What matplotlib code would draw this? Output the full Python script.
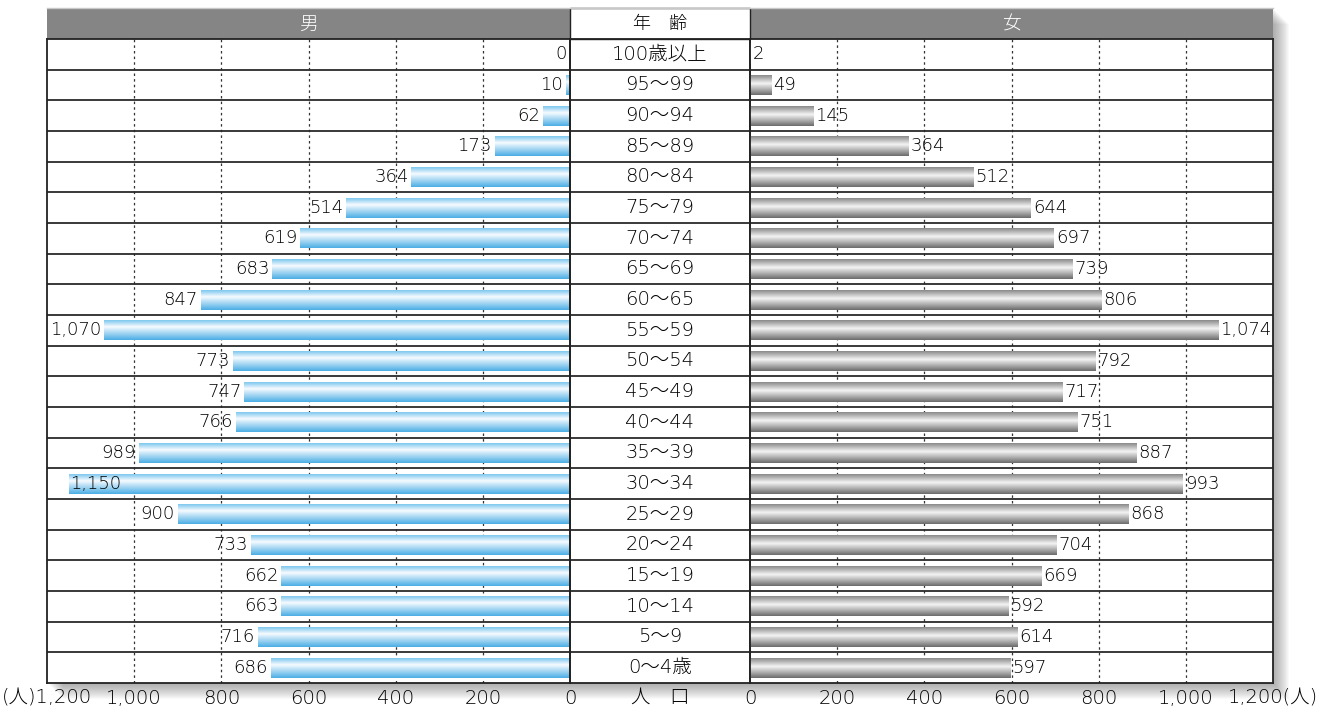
import numpy as np
import matplotlib
matplotlib.use("Agg")
import matplotlib.pyplot as plt
from matplotlib.colors import LinearSegmentedColormap
from matplotlib.patches import Rectangle

plt.rcParams['font.family'] = ['DejaVu Sans', 'Noto Sans CJK JP']
plt.rcParams['font.weight'] = 'light'

# data (top row first)
ages = ["100歳以上", "95～99", "90～94", "85～89", "80～84", "75～79", "70～74",
        "65～69", "60～65", "55～59", "50～54", "45～49", "40～44", "35～39",
        "30～34", "25～29", "20～24", "15～19", "10～14", "5～9", "0～4歳"]
male = [0, 10, 62, 173, 364, 514, 619, 683, 847, 1070, 773, 747, 766, 989,
        1150, 900, 733, 662, 663, 716, 686]
female = [2, 49, 145, 364, 512, 644, 697, 739, 806, 1074, 792, 717, 751, 887,
          993, 868, 704, 669, 592, 614, 597]
ticks = [0, 200, 400, 600, 800, 1000, 1200]
left_ticklabels = ["0", "200", "400", "600", "800", "1,000", "(人)1,200"]
right_ticklabels = ["0", "200", "400", "600", "800", "1,000", "1,200(人)"]

W, H = 1337, 710
fig = plt.figure(figsize=(W / 100, H / 100), dpi=100)
TXT = "#000000"


def fr(x0, y0, x1, y1):
    # pixel box (top-left origin) -> figure rect
    return [x0 / W, (H - y1) / H, (x1 - x0) / W, (y1 - y0) / H]


# background: shadow, header
bg = fig.add_axes([0, 0, 1, 1], zorder=0)
bg.set_xlim(0, W)
bg.set_ylim(H, 0)
bg.axis("off")
for d in range(1, 17):
    bg.add_patch(Rectangle((47 + d, 8 + d), 1226, 675, facecolor="#555555",
                           alpha=0.035, edgecolor="none"))
bg.add_patch(Rectangle((47, 8), 1226, 675, facecolor="white", edgecolor="none"))
bg.add_patch(Rectangle((47, 8), 1226, 31, facecolor="#858585", edgecolor="none"))
bg.plot([47, 1273], [7.5, 7.5], color="#c8c8c8", lw=1)
bg.add_patch(Rectangle((570, 8), 180, 31, facecolor="white", edgecolor="#222222", lw=1))
bg.text(308, 24, "男", color="white", fontsize=13.5, ha="center", va="center")
bg.text(1012, 24, "女", color="white", fontsize=13.5, ha="center", va="center")
bg.text(660, 24, "年　齢", color=TXT, fontsize=13, ha="center", va="center")
bg.text(660, 697, "人　口", color=TXT, fontsize=14, ha="center", va="center")

blue = LinearSegmentedColormap.from_list("b", [(0, "#7ec7ee"), (0.33, "#f6fbff"), (1, "#4caee5")])
gray = LinearSegmentedColormap.from_list("g", [(0, "#8a8a8a"), (0.42, "#f4f4f4"), (1, "#6c6c6c")])

ax_l = fig.add_axes(fr(47, 39, 570, 683), zorder=2)
ax_c = fig.add_axes(fr(570, 39, 750, 683), zorder=2)
ax_r = fig.add_axes(fr(750, 39, 1273, 683), zorder=2)

y = np.arange(len(ages))
bar_h = 0.65


def gradient_bars(ax, vals, cmap):
    bars = ax.barh(y, vals, height=bar_h, color="none", edgecolor="none", zorder=3)
    grad = cmap(np.linspace(0, 1, 64))[:, None, :3]
    for b in bars:
        if b.get_width() <= 0:
            continue
        x0, y0, w, h = b.get_x(), b.get_y(), b.get_width(), b.get_height()
        im = ax.imshow(grad, extent=(x0, x0 + w, y0 + h, y0), aspect="auto",
                       origin="upper", zorder=3, interpolation="bilinear")
        im.set_clip_path(b)
    return bars


for ax, vals, cmap, labels in [(ax_l, male, blue, left_ticklabels),
                               (ax_r, female, gray, right_ticklabels)]:
    ax.set_facecolor("none")
    gradient_bars(ax, vals, cmap)
    for t in ticks[1:-1]:
        ax.axvline(t, color="#333333", lw=0.9, ls=(0, (2, 2.5)), zorder=1)
    ax.set_xlim(0, 1200)
    ax.set_xticks(ticks)
    ax.set_xticklabels(labels, fontsize=14, color=TXT)
    ax.tick_params(axis="x", length=0, pad=4)
    ax.set_yticks([])

ax_l.invert_xaxis()

for ax in (ax_l, ax_c, ax_r):
    ax.set_ylim(len(ages) - 0.5, -0.5)
    for i in range(len(ages) - 1):
        ax.axhline(i + 0.5, color="#2a2a2a", lw=1.3, zorder=4)
    for s in ax.spines.values():
        s.set_color("#222222")
        s.set_linewidth(1.3)
        s.set_zorder(5)

ax_c.set_facecolor("none")
ax_c.set_xlim(0, 1)
ax_c.set_xticks([])
ax_c.set_yticks([])
for i, a in enumerate(ages):
    ax_c.text(0.5, i, a, ha="center", va="center", fontsize=14, color=TXT)

# value labels
for i, v in enumerate(male):
    txt = f"{v:,}"
    if v > 1100:
        ax_l.annotate(txt, (v, i), xytext=(1, 0), textcoords="offset points",
                      ha="left", va="center", fontsize=13, color=TXT, zorder=6)
    else:
        ax_l.annotate(txt, (v, i), xytext=(-2, 0), textcoords="offset points",
                      ha="right", va="center", fontsize=13, color=TXT, zorder=6)
for i, v in enumerate(female):
    ax_r.annotate(f"{v:,}", (v, i), xytext=(1.5, 0), textcoords="offset points",
                  ha="left", va="center", fontsize=13, color=TXT, zorder=6)

fig.savefig("out.png", dpi=100)
